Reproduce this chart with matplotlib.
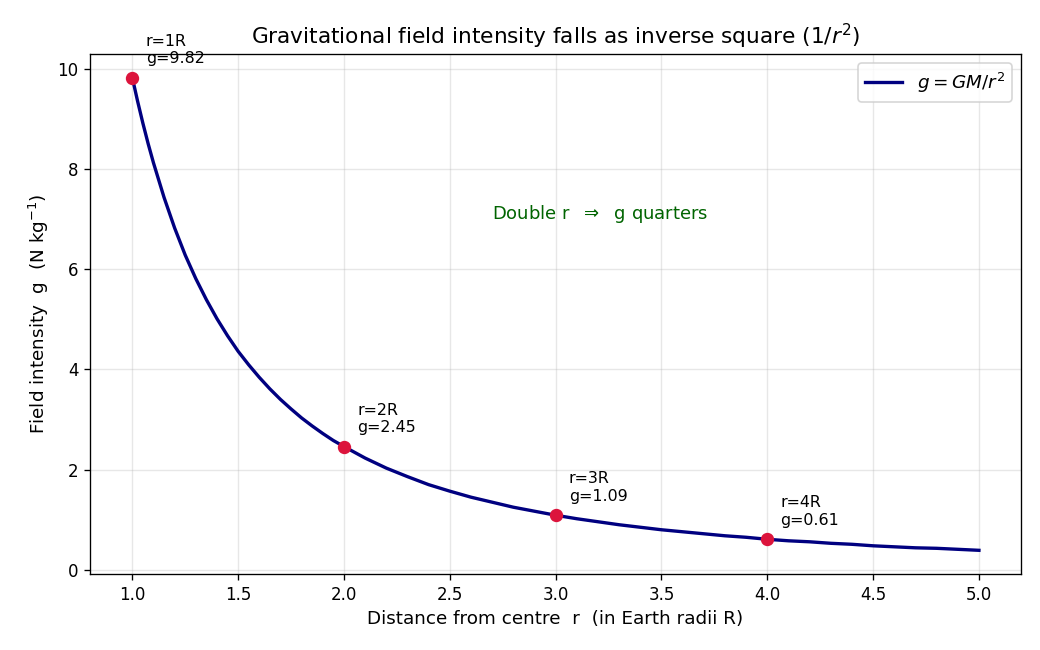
import matplotlib
matplotlib.use("Agg")
import matplotlib.pyplot as plt

# curve values (r in Earth radii, g in N/kg)
r_curve = [1.0, 1.025, 1.05, 1.075, 1.1, 1.15, 1.2, 1.25, 1.3, 1.35, 1.4, 1.45,
           1.5, 1.55, 1.6, 1.65, 1.7, 1.75, 1.8, 1.85, 1.9, 1.95,
           2.0, 2.1, 2.2, 2.3, 2.4, 2.5, 2.6, 2.7, 2.8, 2.9,
           3.0, 3.1, 3.2, 3.3, 3.4, 3.5, 3.6, 3.7, 3.8, 3.9,
           4.0, 4.1, 4.2, 4.3, 4.4, 4.5, 4.6, 4.7, 4.8, 4.9, 5.0]
g_curve = [9.82, 9.35, 8.91, 8.50, 8.12, 7.43, 6.82, 6.28, 5.81, 5.39, 5.01, 4.67,
           4.36, 4.09, 3.84, 3.61, 3.40, 3.21, 3.03, 2.87, 2.72, 2.58,
           2.46, 2.23, 2.03, 1.86, 1.70, 1.57, 1.45, 1.35, 1.25, 1.17,
           1.09, 1.02, 0.96, 0.90, 0.85, 0.80, 0.76, 0.72, 0.68, 0.65,
           0.61, 0.58, 0.56, 0.53, 0.51, 0.48, 0.46, 0.44, 0.43, 0.41, 0.39]

# marked points
r_marks = [1, 2, 3, 4]
g_marks = [9.82, 2.455, 1.09, 0.61]
mark_labels = ["r=1R\ng=9.82", "r=2R\ng=2.45", "r=3R\ng=1.09", "r=4R\ng=0.61"]

fig, ax = plt.subplots(figsize=(1040 / 120, 650 / 120), dpi=120)
fig.subplots_adjust(left=0.0865, right=0.982, top=0.917, bottom=0.117)

ax.plot(r_curve, g_curve, color="navy", lw=2, label=r"$g = GM/r^2$")
ax.plot(r_marks, g_marks, "o", color="crimson", ms=7, zorder=3)
for x, y, t in zip(r_marks, g_marks, mark_labels):
    ax.annotate(t, (x, y), xytext=(8, 7), textcoords="offset points",
                fontsize=9.5, ha="left", va="bottom")

ax.text(2.7, 7.1, r"Double r  $\Rightarrow$  g quarters", color="darkgreen",
        fontsize=10.8, va="center")

ax.set_title(r"Gravitational field intensity falls as inverse square ($1/r^2$)", fontsize=13)
ax.set_xlabel("Distance from centre  r  (in Earth radii R)", fontsize=11)
ax.set_ylabel(r"Field intensity  g  (N kg$^{-1}$)", fontsize=11)
ax.grid(alpha=0.3)
ax.legend(loc="upper right", fontsize=11)

fig.savefig("out.png", dpi=120)
